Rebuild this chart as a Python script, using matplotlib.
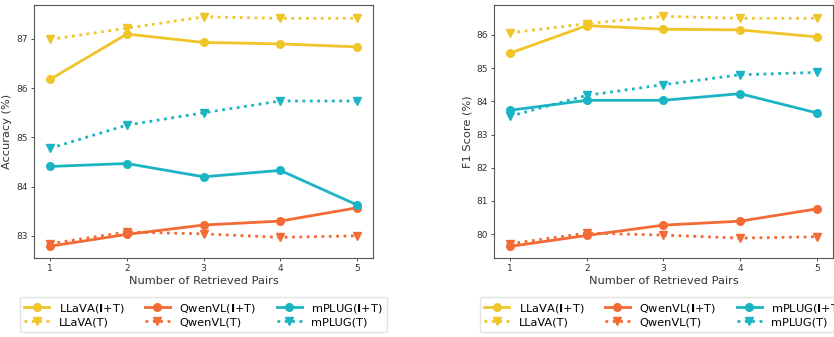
import matplotlib
matplotlib.use("Agg")
import matplotlib.pyplot as plt

x = [1, 2, 3, 4, 5]

acc_llava_it = [86.18, 87.10, 86.93, 86.90, 86.84]
acc_llava_t = [86.99, 87.22, 87.45, 87.42, 87.42]
acc_qwen_it = [82.79, 83.03, 83.22, 83.30, 83.57]
acc_qwen_t = [82.84, 83.08, 83.04, 82.97, 83.00]
acc_mplug_it = [84.41, 84.47, 84.20, 84.33, 83.63]
acc_mplug_t = [84.78, 85.25, 85.50, 85.74, 85.74]

f1_llava_it = [85.45, 86.28, 86.17, 86.15, 85.94]
f1_llava_t = [86.06, 86.34, 86.56, 86.50, 86.50]
f1_qwen_it = [79.63, 79.96, 80.27, 80.39, 80.76]
f1_qwen_t = [79.71, 80.03, 79.97, 79.88, 79.92]
f1_mplug_it = [83.73, 84.03, 84.03, 84.23, 83.65]
f1_mplug_t = [83.55, 84.18, 84.50, 84.80, 84.87]

labels_it = ["LLaVA($\\mathbf{I}$+T)", "QwenVL($\\mathbf{I}$+T)", "mPLUG($\\mathbf{I}$+T)"]
labels_t = ["LLaVA(T)", "QwenVL(T)", "mPLUG(T)"]
colors = ["#F0C529", "#F26A35", "#1BB4C4"]

fig = plt.figure(figsize=(8.34, 3.37), dpi=100)
ax1 = fig.add_axes([0.0408, 0.2344, 0.4065, 0.7507])
ax2 = fig.add_axes([0.5923, 0.2344, 0.4065, 0.7507])

def draw(ax, its, ts, ylabel, ylim, yticks):
    handles = []
    for i in range(3):
        h1, = ax.plot(x, its[i], color=colors[i], lw=2.0, marker='o', ms=5.5,
                      label=labels_it[i])
        h2, = ax.plot(x, ts[i], color=colors[i], lw=2.0, ls=':', marker='v', ms=5.5,
                      label=labels_t[i])
        handles.append((h1, h2))
    ax.set_xlim(0.79, 5.21)
    ax.set_ylim(*ylim)
    ax.set_xticks(x)
    ax.set_yticks(yticks)
    ax.set_xlabel("Number of Retrieved Pairs", fontsize=8.2, color="#333333", labelpad=2)
    ax.set_ylabel(ylabel, fontsize=8.2, color="#333333", labelpad=3)
    ax.tick_params(labelsize=6.5, colors="#333333", length=2.5, width=0.6, pad=2)
    for s in ax.spines.values():
        s.set_color("#555555")
    order = [handles[0][0], handles[0][1], handles[1][0], handles[1][1], handles[2][0], handles[2][1]]
    leg = ax.legend(handles=order, labels=[h.get_label() for h in order], ncol=3,
                    loc="upper center", bbox_to_anchor=(0.5, -0.154), fontsize=8.2,
                    frameon=True, handlelength=2.2, columnspacing=1.8,
                    labelspacing=0.25, borderpad=0.4, borderaxespad=0, fancybox=True)
    leg.get_frame().set_edgecolor("#dddddd")

draw(ax1, [acc_llava_it, acc_qwen_it, acc_mplug_it], [acc_llava_t, acc_qwen_t, acc_mplug_t],
     "Accuracy (%)", (82.55, 87.69), [83, 84, 85, 86, 87])
draw(ax2, [f1_llava_it, f1_qwen_it, f1_mplug_it], [f1_llava_t, f1_qwen_t, f1_mplug_t],
     "F1 Score (%)", (79.28, 86.9), [80, 81, 82, 83, 84, 85, 86])

fig.savefig("out.png", dpi=100)
